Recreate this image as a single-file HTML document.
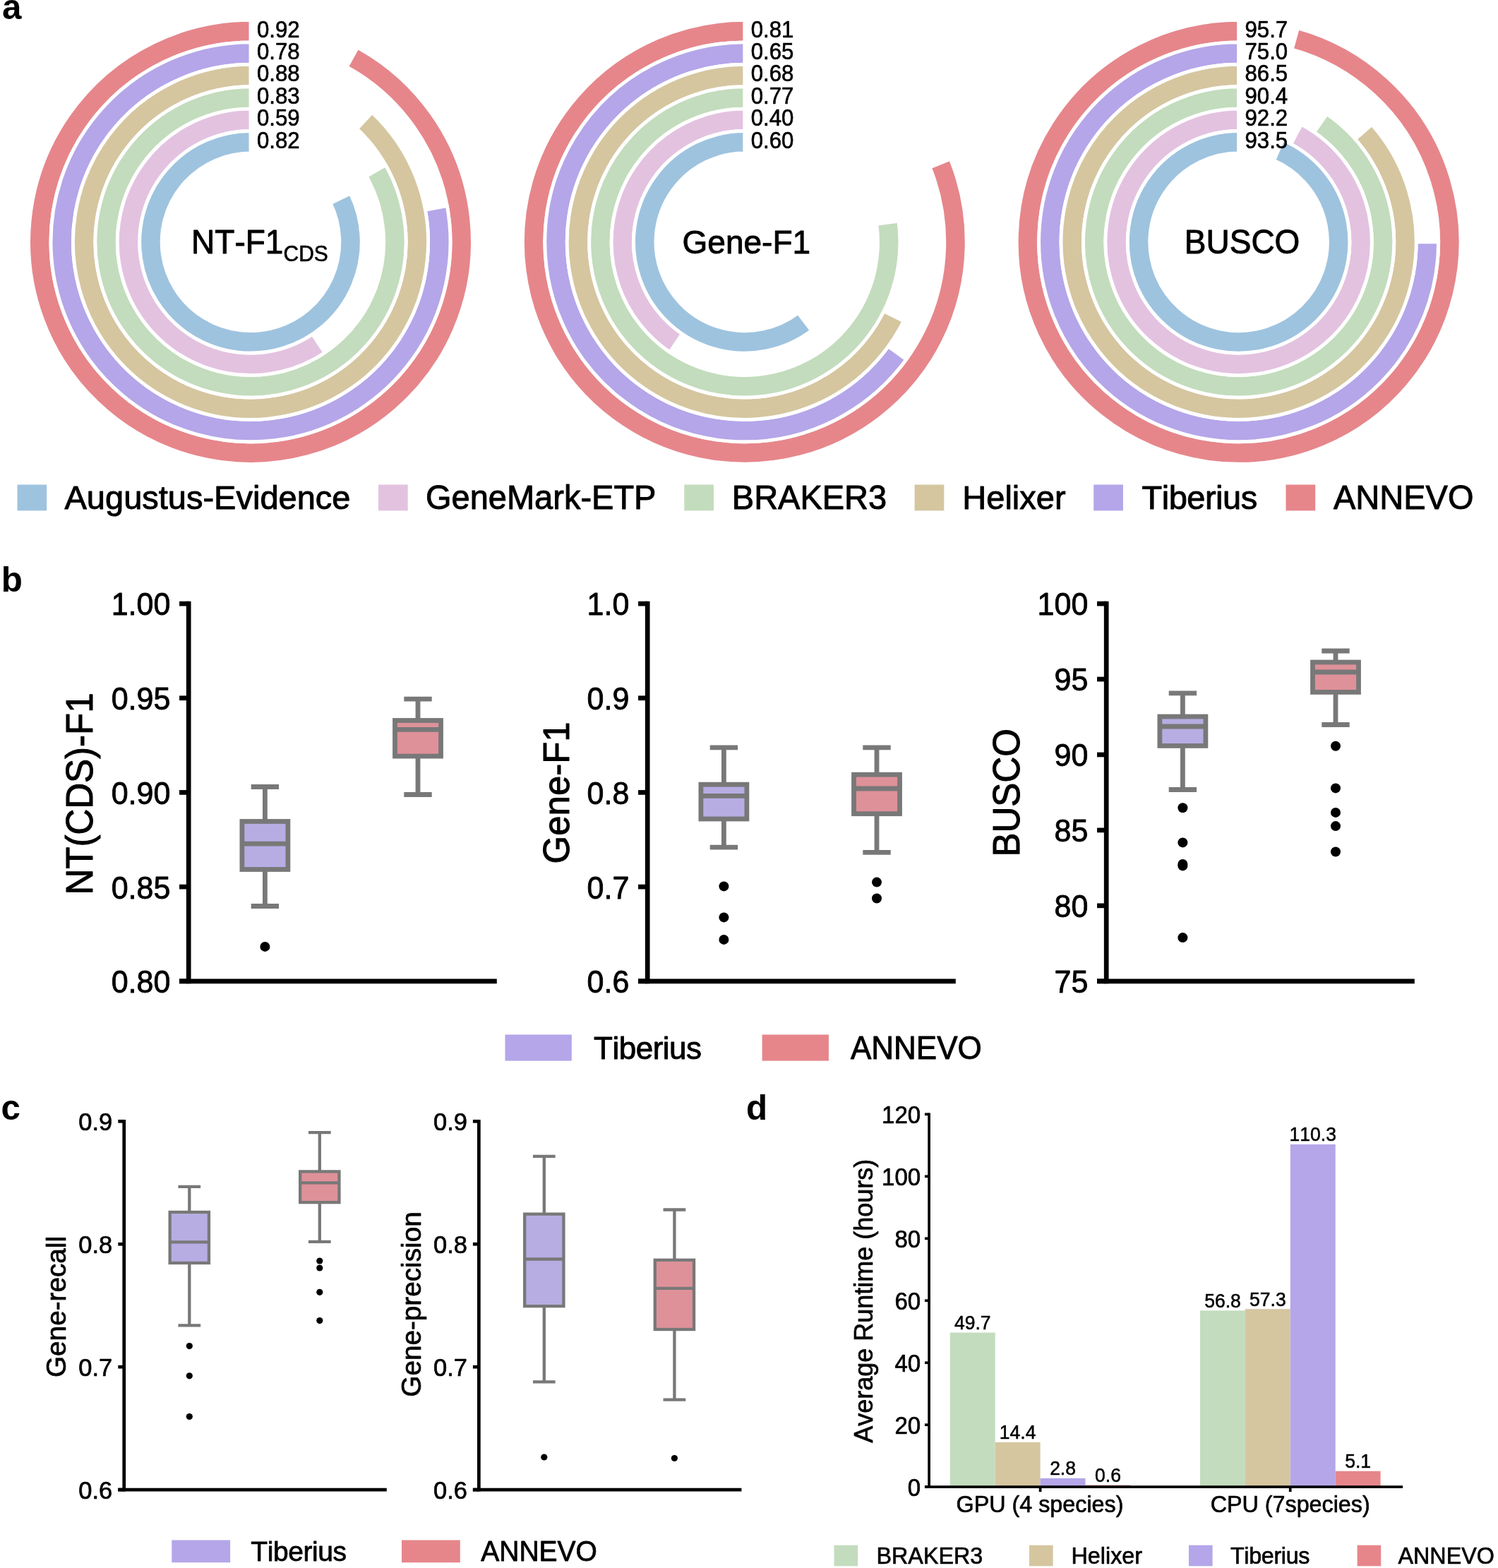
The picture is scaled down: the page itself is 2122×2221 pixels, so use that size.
<!DOCTYPE html>
<html lang="en">
<head>
<meta charset="utf-8">
<title>Figure</title>
<style>
html,body{margin:0;padding:0;background:#fff;}
body{width:2122px;height:2221px;overflow:hidden;}
svg{display:block;}
svg text{font-family:"Liberation Sans", Arial, Helvetica, sans-serif;fill:#000;font-kerning:none;stroke-linejoin:round;}
</style>
</head>
<body>
<svg width="2122" height="2221" viewBox="0 0 2122 2221">
<rect x="0" y="0" width="2122" height="2221" fill="#fff"/>
<path d="M355.00,28.40 A314.40,314.40 0 1 0 506.46,67.29 L491.32,94.83 A282.97,282.97 0 1 1 355.00,59.83 Z" fill="#E6868B" stroke="#fff" stroke-width="4.9" stroke-linejoin="miter"/>
<path d="M355.00,59.83 A282.97,282.97 0 1 0 633.29,291.52 L602.38,297.22 A251.54,251.54 0 1 1 355.00,91.26 Z" fill="#B4A6E9" stroke="#fff" stroke-width="4.9" stroke-linejoin="miter"/>
<path d="M355.00,91.26 A251.54,251.54 0 1 0 527.19,159.44 L505.68,182.35 A220.11,220.11 0 1 1 355.00,122.69 Z" fill="#D5C6A0" stroke="#fff" stroke-width="4.9" stroke-linejoin="miter"/>
<path d="M355.00,122.69 A220.11,220.11 0 1 0 546.33,233.98 L519.01,249.52 A188.68,188.68 0 1 1 355.00,154.12 Z" fill="#C3DCBD" stroke="#fff" stroke-width="4.9" stroke-linejoin="miter"/>
<path d="M355.00,154.12 A188.68,188.68 0 1 0 460.07,499.52 L442.57,473.41 A157.25,157.25 0 1 1 355.00,185.55 Z" fill="#E3C2E0" stroke="#fff" stroke-width="4.9" stroke-linejoin="miter"/>
<path d="M355.00,185.55 A157.25,157.25 0 1 0 496.43,274.06 L468.16,287.80 A125.82,125.82 0 1 1 355.00,216.98 Z" fill="#9EC3DF" stroke="#fff" stroke-width="4.9" stroke-linejoin="miter"/>
<text transform="translate(363.90 52.60) scale(1 1.04)" font-size="31.2" stroke="#000" stroke-width="0.62">0.92</text>
<text transform="translate(363.90 84.03) scale(1 1.04)" font-size="31.2" stroke="#000" stroke-width="0.62">0.78</text>
<text transform="translate(363.90 115.46) scale(1 1.04)" font-size="31.2" stroke="#000" stroke-width="0.62">0.88</text>
<text transform="translate(363.90 146.89) scale(1 1.04)" font-size="31.2" stroke="#000" stroke-width="0.62">0.83</text>
<text transform="translate(363.90 178.32) scale(1 1.04)" font-size="31.2" stroke="#000" stroke-width="0.62">0.59</text>
<text transform="translate(363.90 209.75) scale(1 1.04)" font-size="31.2" stroke="#000" stroke-width="0.62">0.82</text>
<text transform="translate(271.10 359.10) scale(1 1.04)" font-size="46" stroke="#000" stroke-width="0.92">NT-F1</text>
<text transform="translate(401.50 370.40) scale(1 1.04)" font-size="30" stroke="#000" stroke-width="0.60">CDS</text>
<path d="M1054.80,28.40 A314.40,314.40 0 1 0 1346.39,225.23 L1317.24,236.98 A282.97,282.97 0 1 1 1054.80,59.83 Z" fill="#E6868B" stroke="#fff" stroke-width="4.9" stroke-linejoin="miter"/>
<path d="M1054.80,59.83 A282.97,282.97 0 1 0 1283.73,509.13 L1258.30,490.65 A251.54,251.54 0 1 1 1054.80,91.26 Z" fill="#B4A6E9" stroke="#fff" stroke-width="4.9" stroke-linejoin="miter"/>
<path d="M1054.80,91.26 A251.54,251.54 0 1 0 1280.06,454.74 L1251.91,440.75 A220.11,220.11 0 1 1 1054.80,122.69 Z" fill="#D5C6A0" stroke="#fff" stroke-width="4.9" stroke-linejoin="miter"/>
<path d="M1054.80,122.69 A220.11,220.11 0 1 0 1272.90,313.16 L1241.76,317.39 A188.68,188.68 0 1 1 1054.80,154.12 Z" fill="#C3DCBD" stroke="#fff" stroke-width="4.9" stroke-linejoin="miter"/>
<path d="M1054.80,154.12 A188.68,188.68 0 0 0 948.75,498.85 L966.41,472.86 A157.25,157.25 0 0 1 1054.80,185.55 Z" fill="#E3C2E0" stroke="#fff" stroke-width="4.9" stroke-linejoin="miter"/>
<path d="M1054.80,185.55 A157.25,157.25 0 1 0 1149.61,468.25 L1130.66,443.18 A125.82,125.82 0 1 1 1054.80,216.98 Z" fill="#9EC3DF" stroke="#fff" stroke-width="4.9" stroke-linejoin="miter"/>
<text transform="translate(1063.70 52.60) scale(1 1.04)" font-size="31.2" stroke="#000" stroke-width="0.62">0.81</text>
<text transform="translate(1063.70 84.03) scale(1 1.04)" font-size="31.2" stroke="#000" stroke-width="0.62">0.65</text>
<text transform="translate(1063.70 115.46) scale(1 1.04)" font-size="31.2" stroke="#000" stroke-width="0.62">0.68</text>
<text transform="translate(1063.70 146.89) scale(1 1.04)" font-size="31.2" stroke="#000" stroke-width="0.62">0.77</text>
<text transform="translate(1063.70 178.32) scale(1 1.04)" font-size="31.2" stroke="#000" stroke-width="0.62">0.40</text>
<text transform="translate(1063.70 209.75) scale(1 1.04)" font-size="31.2" stroke="#000" stroke-width="0.62">0.60</text>
<text transform="translate(1057.30 359.10) scale(1 1.02)" font-size="46" text-anchor="middle" stroke="#000" stroke-width="0.92">Gene-F1</text>
<path d="M1754.60,28.40 A314.40,314.40 0 1 0 1838.51,39.81 L1830.13,70.10 A282.97,282.97 0 1 1 1754.60,59.83 Z" fill="#E6868B" stroke="#fff" stroke-width="4.9" stroke-linejoin="miter"/>
<path d="M1754.60,59.83 A282.97,282.97 0 1 0 2037.57,342.80 L2006.14,342.80 A251.54,251.54 0 1 1 1754.60,91.26 Z" fill="#B4A6E9" stroke="#fff" stroke-width="4.9" stroke-linejoin="miter"/>
<path d="M1754.60,91.26 A251.54,251.54 0 1 0 1943.28,176.45 L1919.71,197.24 A220.11,220.11 0 1 1 1754.60,122.69 Z" fill="#D5C6A0" stroke="#fff" stroke-width="4.9" stroke-linejoin="miter"/>
<path d="M1754.60,122.69 A220.11,220.11 0 1 0 1879.46,161.53 L1861.63,187.42 A188.68,188.68 0 1 1 1754.60,154.12 Z" fill="#C3DCBD" stroke="#fff" stroke-width="4.9" stroke-linejoin="miter"/>
<path d="M1754.60,154.12 A188.68,188.68 0 1 0 1843.41,176.33 L1828.62,204.06 A157.25,157.25 0 1 1 1754.60,185.55 Z" fill="#E3C2E0" stroke="#fff" stroke-width="4.9" stroke-linejoin="miter"/>
<path d="M1754.60,185.55 A157.25,157.25 0 1 0 1817.05,198.48 L1804.57,227.33 A125.82,125.82 0 1 1 1754.60,216.98 Z" fill="#9EC3DF" stroke="#fff" stroke-width="4.9" stroke-linejoin="miter"/>
<text transform="translate(1763.50 52.60) scale(1 1.04)" font-size="31.2" stroke="#000" stroke-width="0.62">95.7</text>
<text transform="translate(1763.50 84.03) scale(1 1.04)" font-size="31.2" stroke="#000" stroke-width="0.62">75.0</text>
<text transform="translate(1763.50 115.46) scale(1 1.04)" font-size="31.2" stroke="#000" stroke-width="0.62">86.5</text>
<text transform="translate(1763.50 146.89) scale(1 1.04)" font-size="31.2" stroke="#000" stroke-width="0.62">90.4</text>
<text transform="translate(1763.50 178.32) scale(1 1.04)" font-size="31.2" stroke="#000" stroke-width="0.62">92.2</text>
<text transform="translate(1763.50 209.75) scale(1 1.04)" font-size="31.2" stroke="#000" stroke-width="0.62">93.5</text>
<text transform="translate(1759.60 359.10) scale(1 1.04)" font-size="46" text-anchor="middle" stroke="#000" stroke-width="0.92">BUSCO</text>
<rect x="24.50" y="686.50" width="41.70" height="36.80" fill="#9EC3DF"/>
<text transform="translate(91.50 721.40)" font-size="47" stroke="#000" stroke-width="0.94">Augustus-Evidence</text>
<rect x="536.00" y="686.50" width="41.70" height="36.80" fill="#E3C2E0"/>
<text transform="translate(603.00 721.40) scale(1 1.02)" font-size="47" stroke="#000" stroke-width="0.94">GeneMark-ETP</text>
<rect x="969.30" y="686.50" width="41.70" height="36.80" fill="#C3DCBD"/>
<text transform="translate(1036.80 721.40) scale(1 1.04)" font-size="47" stroke="#000" stroke-width="0.94">BRAKER3</text>
<rect x="1295.60" y="686.50" width="41.70" height="36.80" fill="#D5C6A0"/>
<text transform="translate(1363.30 721.40)" font-size="47" stroke="#000" stroke-width="0.94">Helixer</text>
<rect x="1549.20" y="686.50" width="41.70" height="36.80" fill="#B4A6E9"/>
<text transform="translate(1617.60 721.40)" font-size="47" stroke="#000" stroke-width="0.94" letter-spacing="-0.011em">Tiberius</text>
<rect x="1821.50" y="686.50" width="41.70" height="36.80" fill="#E6868B"/>
<text transform="translate(1889.00 721.40) scale(1 1.04)" font-size="47" stroke="#000" stroke-width="0.94">ANNEVO</text>
<text transform="translate(2.90 27.20)" font-size="49.3" font-weight="bold">a</text>
<text transform="translate(1.75 837.70)" font-size="49.3" font-weight="bold">b</text>
<text transform="translate(1.50 1586.20)" font-size="49.3" font-weight="bold">c</text>
<text transform="translate(1057.10 1586.00)" font-size="49.3" font-weight="bold">d</text>
<line x1="267.20" y1="851.75" x2="267.20" y2="1393.15" stroke="#000" stroke-width="6.7"/>
<line x1="254.05" y1="1389.80" x2="703.80" y2="1389.80" stroke="#000" stroke-width="6.7"/>
<line x1="254.05" y1="855.10" x2="267.20" y2="855.10" stroke="#000" stroke-width="6.7"/>
<text transform="translate(241.35 871.49) scale(1 1.04)" font-size="43" text-anchor="end" stroke="#000" stroke-width="0.86">1.00</text>
<line x1="254.05" y1="988.77" x2="267.20" y2="988.77" stroke="#000" stroke-width="6.7"/>
<text transform="translate(241.35 1005.17) scale(1 1.04)" font-size="43" text-anchor="end" stroke="#000" stroke-width="0.86">0.95</text>
<line x1="254.05" y1="1122.45" x2="267.20" y2="1122.45" stroke="#000" stroke-width="6.7"/>
<text transform="translate(241.35 1138.84) scale(1 1.04)" font-size="43" text-anchor="end" stroke="#000" stroke-width="0.86">0.90</text>
<line x1="254.05" y1="1256.12" x2="267.20" y2="1256.12" stroke="#000" stroke-width="6.7"/>
<text transform="translate(241.35 1272.52) scale(1 1.04)" font-size="43" text-anchor="end" stroke="#000" stroke-width="0.86">0.85</text>
<line x1="254.05" y1="1389.80" x2="267.20" y2="1389.80" stroke="#000" stroke-width="6.7"/>
<text transform="translate(241.35 1406.19) scale(1 1.04)" font-size="43" text-anchor="end" stroke="#000" stroke-width="0.86">0.80</text>
<text transform="translate(131.40 1124.50) rotate(-90) scale(1 1.04)" font-size="51" text-anchor="middle" stroke="#000" stroke-width="1.02">NT(CDS)-F1</text>
<line x1="917.20" y1="851.75" x2="917.20" y2="1393.15" stroke="#000" stroke-width="6.7"/>
<line x1="904.05" y1="1389.80" x2="1353.80" y2="1389.80" stroke="#000" stroke-width="6.7"/>
<line x1="904.05" y1="855.10" x2="917.20" y2="855.10" stroke="#000" stroke-width="6.7"/>
<text transform="translate(891.35 871.49) scale(1 1.04)" font-size="43" text-anchor="end" stroke="#000" stroke-width="0.86">1.0</text>
<line x1="904.05" y1="988.77" x2="917.20" y2="988.77" stroke="#000" stroke-width="6.7"/>
<text transform="translate(891.35 1005.17) scale(1 1.04)" font-size="43" text-anchor="end" stroke="#000" stroke-width="0.86">0.9</text>
<line x1="904.05" y1="1122.45" x2="917.20" y2="1122.45" stroke="#000" stroke-width="6.7"/>
<text transform="translate(891.35 1138.84) scale(1 1.04)" font-size="43" text-anchor="end" stroke="#000" stroke-width="0.86">0.8</text>
<line x1="904.05" y1="1256.12" x2="917.20" y2="1256.12" stroke="#000" stroke-width="6.7"/>
<text transform="translate(891.35 1272.52) scale(1 1.04)" font-size="43" text-anchor="end" stroke="#000" stroke-width="0.86">0.7</text>
<line x1="904.05" y1="1389.80" x2="917.20" y2="1389.80" stroke="#000" stroke-width="6.7"/>
<text transform="translate(891.35 1406.19) scale(1 1.04)" font-size="43" text-anchor="end" stroke="#000" stroke-width="0.86">0.6</text>
<text transform="translate(806.00 1122.90) rotate(-90) scale(1 1.02)" font-size="51" text-anchor="middle" stroke="#000" stroke-width="1.02">Gene-F1</text>
<line x1="1567.20" y1="851.75" x2="1567.20" y2="1393.15" stroke="#000" stroke-width="6.7"/>
<line x1="1554.05" y1="1389.80" x2="2003.80" y2="1389.80" stroke="#000" stroke-width="6.7"/>
<line x1="1554.05" y1="855.10" x2="1567.20" y2="855.10" stroke="#000" stroke-width="6.7"/>
<text transform="translate(1541.35 871.49) scale(1 1.04)" font-size="43" text-anchor="end" stroke="#000" stroke-width="0.86">100</text>
<line x1="1554.05" y1="962.04" x2="1567.20" y2="962.04" stroke="#000" stroke-width="6.7"/>
<text transform="translate(1541.35 978.43) scale(1 1.04)" font-size="43" text-anchor="end" stroke="#000" stroke-width="0.86">95</text>
<line x1="1554.05" y1="1068.98" x2="1567.20" y2="1068.98" stroke="#000" stroke-width="6.7"/>
<text transform="translate(1541.35 1085.37) scale(1 1.04)" font-size="43" text-anchor="end" stroke="#000" stroke-width="0.86">90</text>
<line x1="1554.05" y1="1175.92" x2="1567.20" y2="1175.92" stroke="#000" stroke-width="6.7"/>
<text transform="translate(1541.35 1192.31) scale(1 1.04)" font-size="43" text-anchor="end" stroke="#000" stroke-width="0.86">85</text>
<line x1="1554.05" y1="1282.86" x2="1567.20" y2="1282.86" stroke="#000" stroke-width="6.7"/>
<text transform="translate(1541.35 1299.25) scale(1 1.04)" font-size="43" text-anchor="end" stroke="#000" stroke-width="0.86">80</text>
<line x1="1554.05" y1="1389.80" x2="1567.20" y2="1389.80" stroke="#000" stroke-width="6.7"/>
<text transform="translate(1541.35 1406.19) scale(1 1.04)" font-size="43" text-anchor="end" stroke="#000" stroke-width="0.86">75</text>
<text transform="translate(1443.50 1122.80) rotate(-90) scale(1 1.04)" font-size="51" text-anchor="middle" stroke="#000" stroke-width="1.02">BUSCO</text>
<line x1="375.40" y1="1114.50" x2="375.40" y2="1283.50" stroke="#787878" stroke-width="6.8"/>
<line x1="355.70" y1="1114.50" x2="395.10" y2="1114.50" stroke="#787878" stroke-width="6.8"/>
<line x1="355.70" y1="1283.50" x2="395.10" y2="1283.50" stroke="#787878" stroke-width="6.8"/>
<rect x="342.90" y="1163.50" width="65.00" height="68.00" fill="#B7ADE3" stroke="#787878" stroke-width="6.8"/>
<line x1="342.90" y1="1195.20" x2="407.90" y2="1195.20" stroke="#787878" stroke-width="6.8"/>
<circle cx="375.40" cy="1340.90" r="7" fill="#000"/>
<line x1="592.00" y1="990.20" x2="592.00" y2="1125.50" stroke="#787878" stroke-width="6.8"/>
<line x1="572.30" y1="990.20" x2="611.70" y2="990.20" stroke="#787878" stroke-width="6.8"/>
<line x1="572.30" y1="1125.50" x2="611.70" y2="1125.50" stroke="#787878" stroke-width="6.8"/>
<rect x="559.50" y="1020.50" width="65.00" height="50.60" fill="#DE9199" stroke="#787878" stroke-width="6.8"/>
<line x1="559.50" y1="1033.30" x2="624.50" y2="1033.30" stroke="#787878" stroke-width="6.8"/>
<line x1="1025.40" y1="1058.90" x2="1025.40" y2="1200.10" stroke="#787878" stroke-width="6.8"/>
<line x1="1005.70" y1="1058.90" x2="1045.10" y2="1058.90" stroke="#787878" stroke-width="6.8"/>
<line x1="1005.70" y1="1200.10" x2="1045.10" y2="1200.10" stroke="#787878" stroke-width="6.8"/>
<rect x="992.90" y="1111.20" width="65.00" height="48.80" fill="#B7ADE3" stroke="#787878" stroke-width="6.8"/>
<line x1="992.90" y1="1127.40" x2="1057.90" y2="1127.40" stroke="#787878" stroke-width="6.8"/>
<circle cx="1025.40" cy="1255.40" r="7" fill="#000"/>
<circle cx="1025.40" cy="1299.40" r="7" fill="#000"/>
<circle cx="1025.40" cy="1330.90" r="7" fill="#000"/>
<line x1="1242.00" y1="1058.90" x2="1242.00" y2="1207.40" stroke="#787878" stroke-width="6.8"/>
<line x1="1222.30" y1="1058.90" x2="1261.70" y2="1058.90" stroke="#787878" stroke-width="6.8"/>
<line x1="1222.30" y1="1207.40" x2="1261.70" y2="1207.40" stroke="#787878" stroke-width="6.8"/>
<rect x="1209.50" y="1097.20" width="65.00" height="55.50" fill="#DE9199" stroke="#787878" stroke-width="6.8"/>
<line x1="1209.50" y1="1117.00" x2="1274.50" y2="1117.00" stroke="#787878" stroke-width="6.8"/>
<circle cx="1242.00" cy="1249.60" r="7" fill="#000"/>
<circle cx="1242.00" cy="1272.50" r="7" fill="#000"/>
<line x1="1675.40" y1="981.90" x2="1675.40" y2="1118.50" stroke="#787878" stroke-width="6.8"/>
<line x1="1655.70" y1="981.90" x2="1695.10" y2="981.90" stroke="#787878" stroke-width="6.8"/>
<line x1="1655.70" y1="1118.50" x2="1695.10" y2="1118.50" stroke="#787878" stroke-width="6.8"/>
<rect x="1642.90" y="1015.00" width="65.00" height="41.40" fill="#B7ADE3" stroke="#787878" stroke-width="6.8"/>
<line x1="1642.90" y1="1029.00" x2="1707.90" y2="1029.00" stroke="#787878" stroke-width="6.8"/>
<circle cx="1675.40" cy="1144.20" r="7" fill="#000"/>
<circle cx="1675.40" cy="1193.40" r="7" fill="#000"/>
<circle cx="1675.40" cy="1223.90" r="7" fill="#000"/>
<circle cx="1675.40" cy="1226.40" r="7" fill="#000"/>
<circle cx="1675.40" cy="1328.10" r="7" fill="#000"/>
<line x1="1892.00" y1="922.00" x2="1892.00" y2="1026.50" stroke="#787878" stroke-width="6.8"/>
<line x1="1872.30" y1="922.00" x2="1911.70" y2="922.00" stroke="#787878" stroke-width="6.8"/>
<line x1="1872.30" y1="1026.50" x2="1911.70" y2="1026.50" stroke="#787878" stroke-width="6.8"/>
<rect x="1859.50" y="938.00" width="65.00" height="42.40" fill="#DE9199" stroke="#787878" stroke-width="6.8"/>
<line x1="1859.50" y1="952.00" x2="1924.50" y2="952.00" stroke="#787878" stroke-width="6.8"/>
<circle cx="1892.00" cy="1056.80" r="7" fill="#000"/>
<circle cx="1892.00" cy="1116.40" r="7" fill="#000"/>
<circle cx="1892.00" cy="1150.90" r="7" fill="#000"/>
<circle cx="1892.00" cy="1170.10" r="7" fill="#000"/>
<circle cx="1892.00" cy="1206.50" r="7" fill="#000"/>
<rect x="715.50" y="1465.50" width="94.30" height="37.10" fill="#B4A6E9"/>
<text transform="translate(841.00 1500.20)" font-size="44" stroke="#000" stroke-width="0.88" letter-spacing="-0.011em">Tiberius</text>
<rect x="1079.60" y="1465.50" width="94.30" height="37.10" fill="#E6868B"/>
<text transform="translate(1205.00 1500.20) scale(1 1.04)" font-size="44" stroke="#000" stroke-width="0.88">ANNEVO</text>
<line x1="175.75" y1="1585.95" x2="175.75" y2="2112.45" stroke="#000" stroke-width="4.7"/>
<line x1="167.30" y1="2110.10" x2="547.80" y2="2110.10" stroke="#000" stroke-width="4.7"/>
<line x1="167.30" y1="1588.30" x2="175.75" y2="1588.30" stroke="#000" stroke-width="4.7"/>
<text transform="translate(159.30 1601.45) scale(1 1.04)" font-size="34.5" text-anchor="end" stroke="#000" stroke-width="0.69">0.9</text>
<line x1="167.30" y1="1762.23" x2="175.75" y2="1762.23" stroke="#000" stroke-width="4.7"/>
<text transform="translate(159.30 1775.38) scale(1 1.04)" font-size="34.5" text-anchor="end" stroke="#000" stroke-width="0.69">0.8</text>
<line x1="167.30" y1="1936.17" x2="175.75" y2="1936.17" stroke="#000" stroke-width="4.7"/>
<text transform="translate(159.30 1949.32) scale(1 1.04)" font-size="34.5" text-anchor="end" stroke="#000" stroke-width="0.69">0.7</text>
<line x1="167.30" y1="2110.10" x2="175.75" y2="2110.10" stroke="#000" stroke-width="4.7"/>
<text transform="translate(159.30 2123.25) scale(1 1.04)" font-size="34.5" text-anchor="end" stroke="#000" stroke-width="0.69">0.6</text>
<text transform="translate(93.20 1851.00) rotate(-90)" font-size="38.7" text-anchor="middle" stroke="#000" stroke-width="0.77">Gene-recall</text>
<line x1="678.35" y1="1585.95" x2="678.35" y2="2112.45" stroke="#000" stroke-width="4.7"/>
<line x1="669.90" y1="2110.10" x2="1050.40" y2="2110.10" stroke="#000" stroke-width="4.7"/>
<line x1="669.90" y1="1588.30" x2="678.35" y2="1588.30" stroke="#000" stroke-width="4.7"/>
<text transform="translate(661.90 1601.45) scale(1 1.04)" font-size="34.5" text-anchor="end" stroke="#000" stroke-width="0.69">0.9</text>
<line x1="669.90" y1="1762.23" x2="678.35" y2="1762.23" stroke="#000" stroke-width="4.7"/>
<text transform="translate(661.90 1775.38) scale(1 1.04)" font-size="34.5" text-anchor="end" stroke="#000" stroke-width="0.69">0.8</text>
<line x1="669.90" y1="1936.17" x2="678.35" y2="1936.17" stroke="#000" stroke-width="4.7"/>
<text transform="translate(661.90 1949.32) scale(1 1.04)" font-size="34.5" text-anchor="end" stroke="#000" stroke-width="0.69">0.7</text>
<line x1="669.90" y1="2110.10" x2="678.35" y2="2110.10" stroke="#000" stroke-width="4.7"/>
<text transform="translate(661.90 2123.25) scale(1 1.04)" font-size="34.5" text-anchor="end" stroke="#000" stroke-width="0.69">0.6</text>
<text transform="translate(595.80 1847.50) rotate(-90)" font-size="38.7" text-anchor="middle" stroke="#000" stroke-width="0.77">Gene-precision</text>
<line x1="268.30" y1="1680.90" x2="268.30" y2="1877.30" stroke="#787878" stroke-width="4.3"/>
<line x1="252.45" y1="1680.90" x2="284.15" y2="1680.90" stroke="#787878" stroke-width="4.3"/>
<line x1="252.45" y1="1877.30" x2="284.15" y2="1877.30" stroke="#787878" stroke-width="4.3"/>
<rect x="240.65" y="1716.95" width="55.30" height="72.00" fill="#B7ADE3" stroke="#787878" stroke-width="4.3"/>
<line x1="240.65" y1="1759.40" x2="295.95" y2="1759.40" stroke="#787878" stroke-width="4.3"/>
<circle cx="268.30" cy="1906.60" r="4.6" fill="#000"/>
<circle cx="268.30" cy="1948.80" r="4.6" fill="#000"/>
<circle cx="268.30" cy="2006.50" r="4.6" fill="#000"/>
<line x1="452.80" y1="1604.20" x2="452.80" y2="1758.80" stroke="#787878" stroke-width="4.3"/>
<line x1="436.95" y1="1604.20" x2="468.65" y2="1604.20" stroke="#787878" stroke-width="4.3"/>
<line x1="436.95" y1="1758.80" x2="468.65" y2="1758.80" stroke="#787878" stroke-width="4.3"/>
<rect x="425.15" y="1659.45" width="55.30" height="43.70" fill="#DE9199" stroke="#787878" stroke-width="4.3"/>
<line x1="425.15" y1="1675.30" x2="480.45" y2="1675.30" stroke="#787878" stroke-width="4.3"/>
<circle cx="452.80" cy="1786.00" r="4.6" fill="#000"/>
<circle cx="452.80" cy="1796.00" r="4.6" fill="#000"/>
<circle cx="452.80" cy="1830.30" r="4.6" fill="#000"/>
<circle cx="452.80" cy="1870.60" r="4.6" fill="#000"/>
<line x1="770.80" y1="1637.80" x2="770.80" y2="1957.40" stroke="#787878" stroke-width="4.3"/>
<line x1="754.95" y1="1637.80" x2="786.65" y2="1637.80" stroke="#787878" stroke-width="4.3"/>
<line x1="754.95" y1="1957.40" x2="786.65" y2="1957.40" stroke="#787878" stroke-width="4.3"/>
<rect x="743.15" y="1719.65" width="55.30" height="130.50" fill="#B7ADE3" stroke="#787878" stroke-width="4.3"/>
<line x1="743.15" y1="1783.50" x2="798.45" y2="1783.50" stroke="#787878" stroke-width="4.3"/>
<circle cx="770.80" cy="2064.00" r="4.6" fill="#000"/>
<line x1="955.40" y1="1713.50" x2="955.40" y2="1982.70" stroke="#787878" stroke-width="4.3"/>
<line x1="939.55" y1="1713.50" x2="971.25" y2="1713.50" stroke="#787878" stroke-width="4.3"/>
<line x1="939.55" y1="1982.70" x2="971.25" y2="1982.70" stroke="#787878" stroke-width="4.3"/>
<rect x="927.75" y="1784.75" width="55.30" height="98.30" fill="#DE9199" stroke="#787878" stroke-width="4.3"/>
<line x1="927.75" y1="1824.80" x2="983.05" y2="1824.80" stroke="#787878" stroke-width="4.3"/>
<circle cx="955.40" cy="2065.50" r="4.6" fill="#000"/>
<rect x="243.30" y="2181.50" width="82.80" height="31.70" fill="#B4A6E9"/>
<text transform="translate(355.30 2211.30)" font-size="39" stroke="#000" stroke-width="0.78" letter-spacing="-0.011em">Tiberius</text>
<rect x="569.00" y="2181.50" width="82.80" height="31.70" fill="#E6868B"/>
<text transform="translate(681.30 2211.30) scale(1 1.04)" font-size="39" stroke="#000" stroke-width="0.78">ANNEVO</text>
<rect x="1345.80" y="1887.56" width="63.90" height="218.64" fill="#C3DCBD"/>
<text transform="translate(1377.75 1883.06) scale(1 1.04)" font-size="26.5" text-anchor="middle" stroke="#000" stroke-width="0.53">49.7</text>
<rect x="1409.70" y="2042.85" width="63.90" height="63.35" fill="#D5C6A0"/>
<text transform="translate(1441.65 2038.35) scale(1 1.04)" font-size="26.5" text-anchor="middle" stroke="#000" stroke-width="0.53">14.4</text>
<rect x="1473.60" y="2093.88" width="63.90" height="12.32" fill="#B4A6E9"/>
<text transform="translate(1505.55 2089.38) scale(1 1.04)" font-size="26.5" text-anchor="middle" stroke="#000" stroke-width="0.53">2.8</text>
<rect x="1537.50" y="2103.56" width="63.90" height="2.64" fill="#E6868B"/>
<text transform="translate(1569.45 2099.06) scale(1 1.04)" font-size="26.5" text-anchor="middle" stroke="#000" stroke-width="0.53">0.6</text>
<rect x="1700.00" y="1856.33" width="63.90" height="249.87" fill="#C3DCBD"/>
<text transform="translate(1731.95 1851.83) scale(1 1.04)" font-size="26.5" text-anchor="middle" stroke="#000" stroke-width="0.53">56.8</text>
<rect x="1763.90" y="1854.13" width="63.90" height="252.07" fill="#D5C6A0"/>
<text transform="translate(1795.85 1849.63) scale(1 1.04)" font-size="26.5" text-anchor="middle" stroke="#000" stroke-width="0.53">57.3</text>
<rect x="1827.80" y="1620.97" width="63.90" height="485.23" fill="#B4A6E9"/>
<text transform="translate(1859.75 1616.47) scale(1 1.04)" font-size="26.5" text-anchor="middle" stroke="#000" stroke-width="0.53">110.3</text>
<rect x="1891.70" y="2083.76" width="63.90" height="22.44" fill="#E6868B"/>
<text transform="translate(1923.65 2079.26) scale(1 1.04)" font-size="26.5" text-anchor="middle" stroke="#000" stroke-width="0.53">5.1</text>
<line x1="1316.10" y1="1576.45" x2="1316.10" y2="2108.05" stroke="#000" stroke-width="3.7"/>
<line x1="1309.95" y1="2106.20" x2="1987.10" y2="2106.20" stroke="#000" stroke-width="3.7"/>
<line x1="1309.95" y1="1578.30" x2="1316.10" y2="1578.30" stroke="#000" stroke-width="3.7"/>
<text transform="translate(1304.15 1590.71) scale(1 1.04)" font-size="33" text-anchor="end" stroke="#000" stroke-width="0.66">120</text>
<line x1="1309.95" y1="1666.28" x2="1316.10" y2="1666.28" stroke="#000" stroke-width="3.7"/>
<text transform="translate(1304.15 1678.70) scale(1 1.04)" font-size="33" text-anchor="end" stroke="#000" stroke-width="0.66">100</text>
<line x1="1309.95" y1="1754.27" x2="1316.10" y2="1754.27" stroke="#000" stroke-width="3.7"/>
<text transform="translate(1304.15 1766.68) scale(1 1.04)" font-size="33" text-anchor="end" stroke="#000" stroke-width="0.66">80</text>
<line x1="1309.95" y1="1842.25" x2="1316.10" y2="1842.25" stroke="#000" stroke-width="3.7"/>
<text transform="translate(1304.15 1854.66) scale(1 1.04)" font-size="33" text-anchor="end" stroke="#000" stroke-width="0.66">60</text>
<line x1="1309.95" y1="1930.23" x2="1316.10" y2="1930.23" stroke="#000" stroke-width="3.7"/>
<text transform="translate(1304.15 1942.65) scale(1 1.04)" font-size="33" text-anchor="end" stroke="#000" stroke-width="0.66">40</text>
<line x1="1309.95" y1="2018.22" x2="1316.10" y2="2018.22" stroke="#000" stroke-width="3.7"/>
<text transform="translate(1304.15 2030.63) scale(1 1.04)" font-size="33" text-anchor="end" stroke="#000" stroke-width="0.66">20</text>
<line x1="1309.95" y1="2106.20" x2="1316.10" y2="2106.20" stroke="#000" stroke-width="3.7"/>
<text transform="translate(1304.15 2118.61) scale(1 1.04)" font-size="33" text-anchor="end" stroke="#000" stroke-width="0.66">0</text>
<line x1="1473.60" y1="2106.20" x2="1473.60" y2="2113.20" stroke="#000" stroke-width="3.7"/>
<line x1="1827.70" y1="2106.20" x2="1827.70" y2="2113.20" stroke="#000" stroke-width="3.7"/>
<text transform="translate(1473.00 2141.90) scale(1 1.02)" font-size="32.3" text-anchor="middle" stroke="#000" stroke-width="0.65">GPU (4 species)</text>
<text transform="translate(1827.70 2141.90) scale(1 1.02)" font-size="32.3" text-anchor="middle" stroke="#000" stroke-width="0.65">CPU (7species)</text>
<text transform="translate(1235.60 1842.75) rotate(-90)" font-size="36" text-anchor="middle" stroke="#000" stroke-width="0.72">Average Runtime (hours)</text>
<rect x="1181.50" y="2188.70" width="33.60" height="29.60" fill="#C3DCBD"/>
<text transform="translate(1241.50 2215.10) scale(1 1.04)" font-size="32.3" stroke="#000" stroke-width="0.65">BRAKER3</text>
<rect x="1458.00" y="2188.70" width="33.60" height="29.60" fill="#D5C6A0"/>
<text transform="translate(1517.50 2215.10)" font-size="32.3" stroke="#000" stroke-width="0.65">Helixer</text>
<rect x="1684.00" y="2188.70" width="33.60" height="29.60" fill="#B4A6E9"/>
<text transform="translate(1743.00 2215.10)" font-size="32.3" stroke="#000" stroke-width="0.65" letter-spacing="-0.011em">Tiberius</text>
<rect x="1922.60" y="2188.70" width="33.60" height="29.60" fill="#E6868B"/>
<text transform="translate(1980.50 2215.10) scale(1 1.04)" font-size="32.3" stroke="#000" stroke-width="0.65">ANNEVO</text>
</svg>
</body>
</html>
